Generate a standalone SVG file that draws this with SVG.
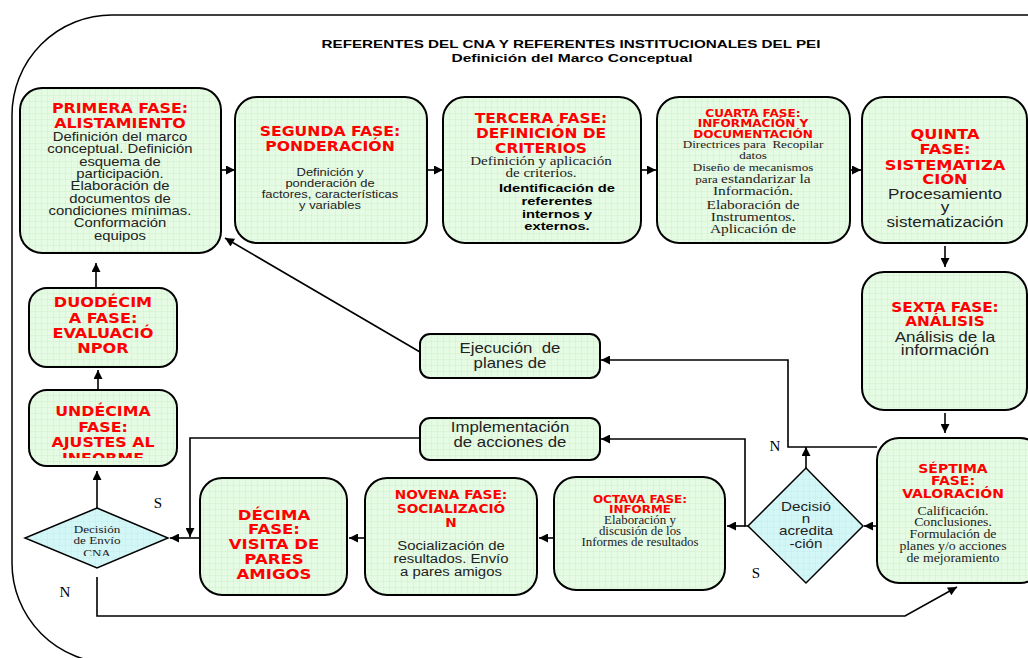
<svg xmlns="http://www.w3.org/2000/svg" width="1028" height="658" viewBox="0 0 1028 658">
<defs>
<pattern id="grid" width="6" height="6" patternUnits="userSpaceOnUse"><rect width="6" height="6" fill="#e6fbe4"/><path d="M6 0V6H0" fill="none" stroke="#c3ebc3" stroke-width="0.7"/></pattern>
<pattern id="gridc" width="6" height="6" patternUnits="userSpaceOnUse"><rect width="6" height="6" fill="#d3f6f6"/><path d="M6 0V6H0" fill="none" stroke="#bfe9e9" stroke-width="0.7"/></pattern>
<marker id="ah" viewBox="0 0 10 10" refX="10" refY="5" markerWidth="11" markerHeight="9" markerUnits="userSpaceOnUse" orient="auto"><path d="M0,0L10,5L0,10z" fill="#000"/></marker>
<clipPath id="c1"><rect x="20" y="88" width="201" height="154"/></clipPath>
<clipPath id="c11"><rect x="29" y="390" width="148" height="68"/></clipPath>
<clipPath id="cde"><rect x="20" y="505" width="150" height="51"/></clipPath>
</defs>
<style>
.box{fill:url(#grid);stroke:#000;stroke-width:2}
.dia{fill:url(#gridc);stroke:#000;stroke-width:1.5}
.t{font-family:"DejaVu Sans",Verdana,sans-serif;font-weight:bold;fill:#ff0000;text-anchor:middle}
.b{font-family:"Liberation Sans",Arial,sans-serif;fill:#222;text-anchor:middle}
.s{font-family:"Liberation Serif","Times New Roman",serif;fill:#222;text-anchor:middle}
.h{font-family:"Liberation Sans",Arial,sans-serif;font-weight:bold;fill:#000;text-anchor:middle;font-size:11.5px}
.lab{font-family:"Liberation Serif","Times New Roman",serif;fill:#000;font-size:15px;text-anchor:middle}
.ca{fill:none;stroke:#000;stroke-width:1.6;marker-end:url(#ah)}
</style>
<rect x="12" y="15" width="1130" height="648" rx="100" ry="100" fill="none" stroke="#000" stroke-width="1.5"/>
<text class="h" x="571" y="48" textLength="499" lengthAdjust="spacingAndGlyphs">REFERENTES DEL CNA Y REFERENTES INSTITUCIONALES DEL PEI</text>
<text class="h" x="572" y="62" textLength="241" lengthAdjust="spacingAndGlyphs">Definición del Marco Conceptual</text>

<g id="connectors">
<line class="ca" x1="221" y1="170" x2="235" y2="170"/>
<line class="ca" x1="427" y1="170" x2="443" y2="170"/>
<line class="ca" x1="641" y1="170" x2="656" y2="170"/>
<line class="ca" x1="850" y1="170" x2="861" y2="170"/>
<line class="ca" x1="945" y1="246" x2="945" y2="267"/>
<line class="ca" x1="945" y1="413" x2="945" y2="433"/>
<line class="ca" x1="877" y1="526" x2="864" y2="526"/>
<line class="ca" x1="806" y1="468" x2="806" y2="447"/>
<polyline class="ca" points="877,447 788,447 788,360 601,360"/>
<polyline class="ca" points="748,526 745,526 745,439 601,439"/>
<line class="ca" x1="745" y1="526" x2="727" y2="526"/>
<line class="ca" x1="554" y1="538" x2="539" y2="538"/>
<line class="ca" x1="365" y1="538" x2="349" y2="538"/>
<line class="ca" x1="200" y1="538" x2="170" y2="538"/>
<polyline class="ca" points="420,438 190,438 190,537"/>
<line class="ca" x1="97" y1="508" x2="97" y2="471"/>
<line class="ca" x1="98" y1="390" x2="98" y2="370"/>
<line class="ca" x1="96" y1="288" x2="96" y2="263"/>
<line class="ca" x1="420" y1="352" x2="225" y2="238"/>
<polyline class="ca" points="97,577 97,616 905,616 957,587"/>
</g>

<g id="n1">
<rect class="box" x="20" y="88" width="201" height="165" rx="22"/>
<g class="t" font-size="13.8" transform="translate(120 0) scale(1.15 1) translate(-120 0)">
<text x="120" y="113">PRIMERA FASE:</text>
<text x="120" y="128">ALISTAMIENTO</text>
</g>
<g clip-path="url(#c1)">
<g class="b" font-size="12.8" transform="translate(120 0) scale(1.16 1) translate(-120 0)">
<text x="120" y="141">Definición del marco</text>
<text x="120" y="153.5">conceptual. Definición</text>
<text x="120" y="166">esquema de</text>
<text x="120" y="178">participación.</text>
<text x="120" y="190.5">Elaboración de</text>
<text x="120" y="203">documentos de</text>
<text x="120" y="215">condiciones mínimas.</text>
<text x="120" y="227.5">Conformación</text>
<text x="120" y="240">equipos</text>
</g>
</g>
</g>

<g id="n2">
<rect class="box" x="235" y="97" width="192" height="146" rx="22"/>
<g class="t" font-size="13.3" transform="translate(330 0) scale(1.18 1) translate(-330 0)">
<text x="330" y="136">SEGUNDA FASE:</text>
<text x="330" y="151">PONDERACIÓN</text>
</g>
<g class="b" font-size="10.8" transform="translate(330 0) scale(1.2 1) translate(-330 0)">
<text x="330" y="176">Definición y</text>
<text x="330" y="187">ponderación de</text>
<text x="330" y="198">factores, características</text>
<text x="330" y="209">y variables</text>
</g>
</g>

<g id="n3">
<rect class="box" x="443" y="97" width="198" height="146" rx="22"/>
<g class="t" font-size="13.3" transform="translate(541 0) scale(1.16 1) translate(-541 0)">
<text x="541" y="123">TERCERA FASE:</text>
<text x="541" y="138">DEFINICIÓN DE</text>
<text x="541" y="153">CRITERIOS</text>
</g>
<g class="s" font-size="12.8" transform="translate(541 0) scale(1.18 1) translate(-541 0)">
<text x="541" y="165">Definición y aplicación</text>
<text x="541" y="177">de criterios.</text>
</g>
<g class="h" transform="translate(557 0) scale(1.28 1) translate(-557 0)">
<text x="557" y="192">Identificación de</text>
<text x="557" y="205">referentes</text>
<text x="557" y="218">internos y</text>
<text x="557" y="230">externos.</text>
</g>
</g>

<g id="n4">
<rect class="box" x="657" y="97" width="193" height="146" rx="22"/>
<g class="t" font-size="10.6" transform="translate(753 0) scale(1.14 1) translate(-753 0)">
<text x="753" y="117">CUARTA FASE:</text>
<text x="753" y="127.5">INFORMACIÓN Y</text>
<text x="753" y="138">DOCUMENTACIÓN</text>
</g>
<g class="s" font-size="11" transform="translate(753 0) scale(1.19 1) translate(-753 0)">
<text x="753" y="148.5">Directrices para <tspan xml:space="preserve"> Recopilar</tspan></text>
<text x="753" y="159">datos</text>
<text x="753" y="171">Diseño de mecanismos</text>
<text x="753" y="183">para <tspan font-size="13">estandarizar la</tspan></text>
<text x="753" y="195.5" font-size="13">Información.</text>
<text x="753" y="209" font-size="13">Elaboración de</text>
<text x="753" y="221" font-size="13">Instrumentos.</text>
<text x="753" y="233.5" font-size="13">Aplicación de</text>
</g>
</g>

<g id="n5">
<rect class="box" x="862" y="97" width="165" height="146" rx="22"/>
<g class="t" font-size="14" transform="translate(945 0) scale(1.16 1) translate(-945 0)">
<text x="945" y="139">QUINTA</text>
<text x="945" y="154">FASE:</text>
<text x="945" y="170">SISTEMATIZA</text>
<text x="945" y="184">CIÓN</text>
</g>
<g class="b" font-size="14.5" transform="translate(945 0) scale(1.18 1) translate(-945 0)">
<text x="945" y="199">Procesamiento</text>
<text x="945" y="212">y</text>
<text x="945" y="227">sistematización</text>
</g>
</g>

<g id="n6">
<rect class="box" x="862" y="272" width="165" height="138" rx="22"/>
<g class="t" font-size="13.5" transform="translate(945 0) scale(1.13 1) translate(-945 0)">
<text x="945" y="312">SEXTA FASE:</text>
<text x="945" y="326">ANÁLISIS</text>
</g>
<g class="b" font-size="14" transform="translate(945 0) scale(1.22 1) translate(-945 0)">
<text x="945" y="342">Análisis de la</text>
<text x="945" y="355">información</text>
</g>
</g>

<g id="n7">
<rect class="box" x="877" y="438" width="165" height="145" rx="22"/>
<g class="t" font-size="12.5" transform="translate(953 0) scale(1.12 1) translate(-953 0)">
<text x="953" y="473">SÉPTIMA</text>
<text x="953" y="485.5">FASE:</text>
<text x="953" y="498">VALORACIÓN</text>
</g>
<g class="s" font-size="11.5" transform="translate(953 0) scale(1.2 1) translate(-953 0)">
<text x="953" y="515">Calificación.</text>
<text x="953" y="526">Conclusiones.</text>
<text x="953" y="538">Formulación de</text>
<text x="953" y="550">planes y/o acciones</text>
<text x="953" y="562">de mejoramiento</text>
</g>
</g>

<g id="d1">
<polygon class="dia" points="806,468 863,526 806,583 748,526"/>
<g class="b" font-size="13" transform="translate(806 0) scale(1.17 1) translate(-806 0)">
<text x="806" y="511">Decisió</text>
<text x="806" y="523">n</text>
<text x="806" y="535">acredita</text>
<text x="806" y="548">-ción</text>
</g>
</g>

<g id="n8">
<rect class="box" x="554" y="477" width="171" height="113" rx="22"/>
<g class="t" font-size="10.6" transform="translate(640 0) scale(1.13 1) translate(-640 0)">
<text x="640" y="503">OCTAVA FASE:</text>
<text x="640" y="513.5">INFORME</text>
</g>
<g class="s" font-size="11.5" transform="translate(640 0) scale(1.12 1) translate(-640 0)">
<text x="640" y="524.5">Elaboración y</text>
<text x="640" y="535">discusión de los</text>
<text x="640" y="546">Informes de resultados</text>
</g>
</g>

<g id="n9">
<rect class="box" x="365" y="478" width="172" height="117" rx="22"/>
<g class="t" font-size="12.8" transform="translate(451 0) scale(1.07 1) translate(-451 0)">
<text x="451" y="499">NOVENA FASE:</text>
<text x="451" y="513">SOCIALIZACIÓ</text>
<text x="451" y="527">N</text>
</g>
<g class="b" font-size="13.3" transform="translate(451 0) scale(1.12 1) translate(-451 0)">
<text x="451" y="550">Socialización de</text>
<text x="451" y="563">resultados. Envío</text>
<text x="451" y="576">a pares amigos</text>
</g>
</g>

<g id="n10">
<rect class="box" x="200" y="478" width="147" height="117" rx="22"/>
<g class="t" font-size="14.5" transform="translate(274 0) scale(1.14 1) translate(-274 0)">
<text x="274" y="520">DÉCIMA</text>
<text x="274" y="534">FASE:</text>
<text x="274" y="549">VISITA DE</text>
<text x="274" y="564">PARES</text>
<text x="274" y="579">AMIGOS</text>
</g>
</g>

<g id="d2">
<polygon class="dia" points="97,508 168,538 97,568 25,538"/>
<g clip-path="url(#cde)">
<g class="s" font-size="10.5" transform="translate(97 0) scale(1.25 1) translate(-97 0)">
<text x="97" y="533">Decisión</text>
<text x="97" y="544">de Envío</text>
<text x="97" y="557.5">CNA</text>
</g>
</g>
</g>

<g id="n11">
<rect class="box" x="29" y="390" width="148" height="76" rx="18"/>
<g clip-path="url(#c11)">
<g class="t" font-size="14" transform="translate(103 0) scale(1.13 1) translate(-103 0)">
<text x="103" y="416">UNDÉCIMA</text>
<text x="103" y="432">FASE:</text>
<text x="103" y="447">AJUSTES AL</text>
<text x="103" y="463">INFORME</text>
</g>
</g>
</g>

<g id="n12">
<rect class="box" x="29" y="288" width="148" height="79" rx="18"/>
<g class="t" font-size="14" transform="translate(103 0) scale(1.15 1) translate(-103 0)">
<text x="103" y="307">DUODÉCIM</text>
<text x="103" y="323">A FASE:</text>
<text x="103" y="338">EVALUACIÓ</text>
<text x="103" y="353">NPOR</text>
</g>
</g>

<g id="n13">
<rect class="box" x="420" y="334" width="180" height="44" rx="10"/>
<g class="b" font-size="14" transform="translate(510 0) scale(1.2 1) translate(-510 0)">
<text x="510" y="353" xml:space="preserve">Ejecución  de</text>
<text x="510" y="368">planes de</text>
</g>
</g>

<g id="n14">
<rect class="box" x="420" y="418" width="180" height="42" rx="10"/>
<g class="b" font-size="14" transform="translate(510 0) scale(1.2 1) translate(-510 0)">
<text x="510" y="432">Implementación</text>
<text x="510" y="447">de acciones de</text>
</g>
</g>

<g id="labels">
<text class="lab" x="775" y="451">N</text>
<text class="lab" x="756" y="578">S</text>
<text class="lab" x="158" y="508">S</text>
<text class="lab" x="65" y="597">N</text>
</g>
</svg>
